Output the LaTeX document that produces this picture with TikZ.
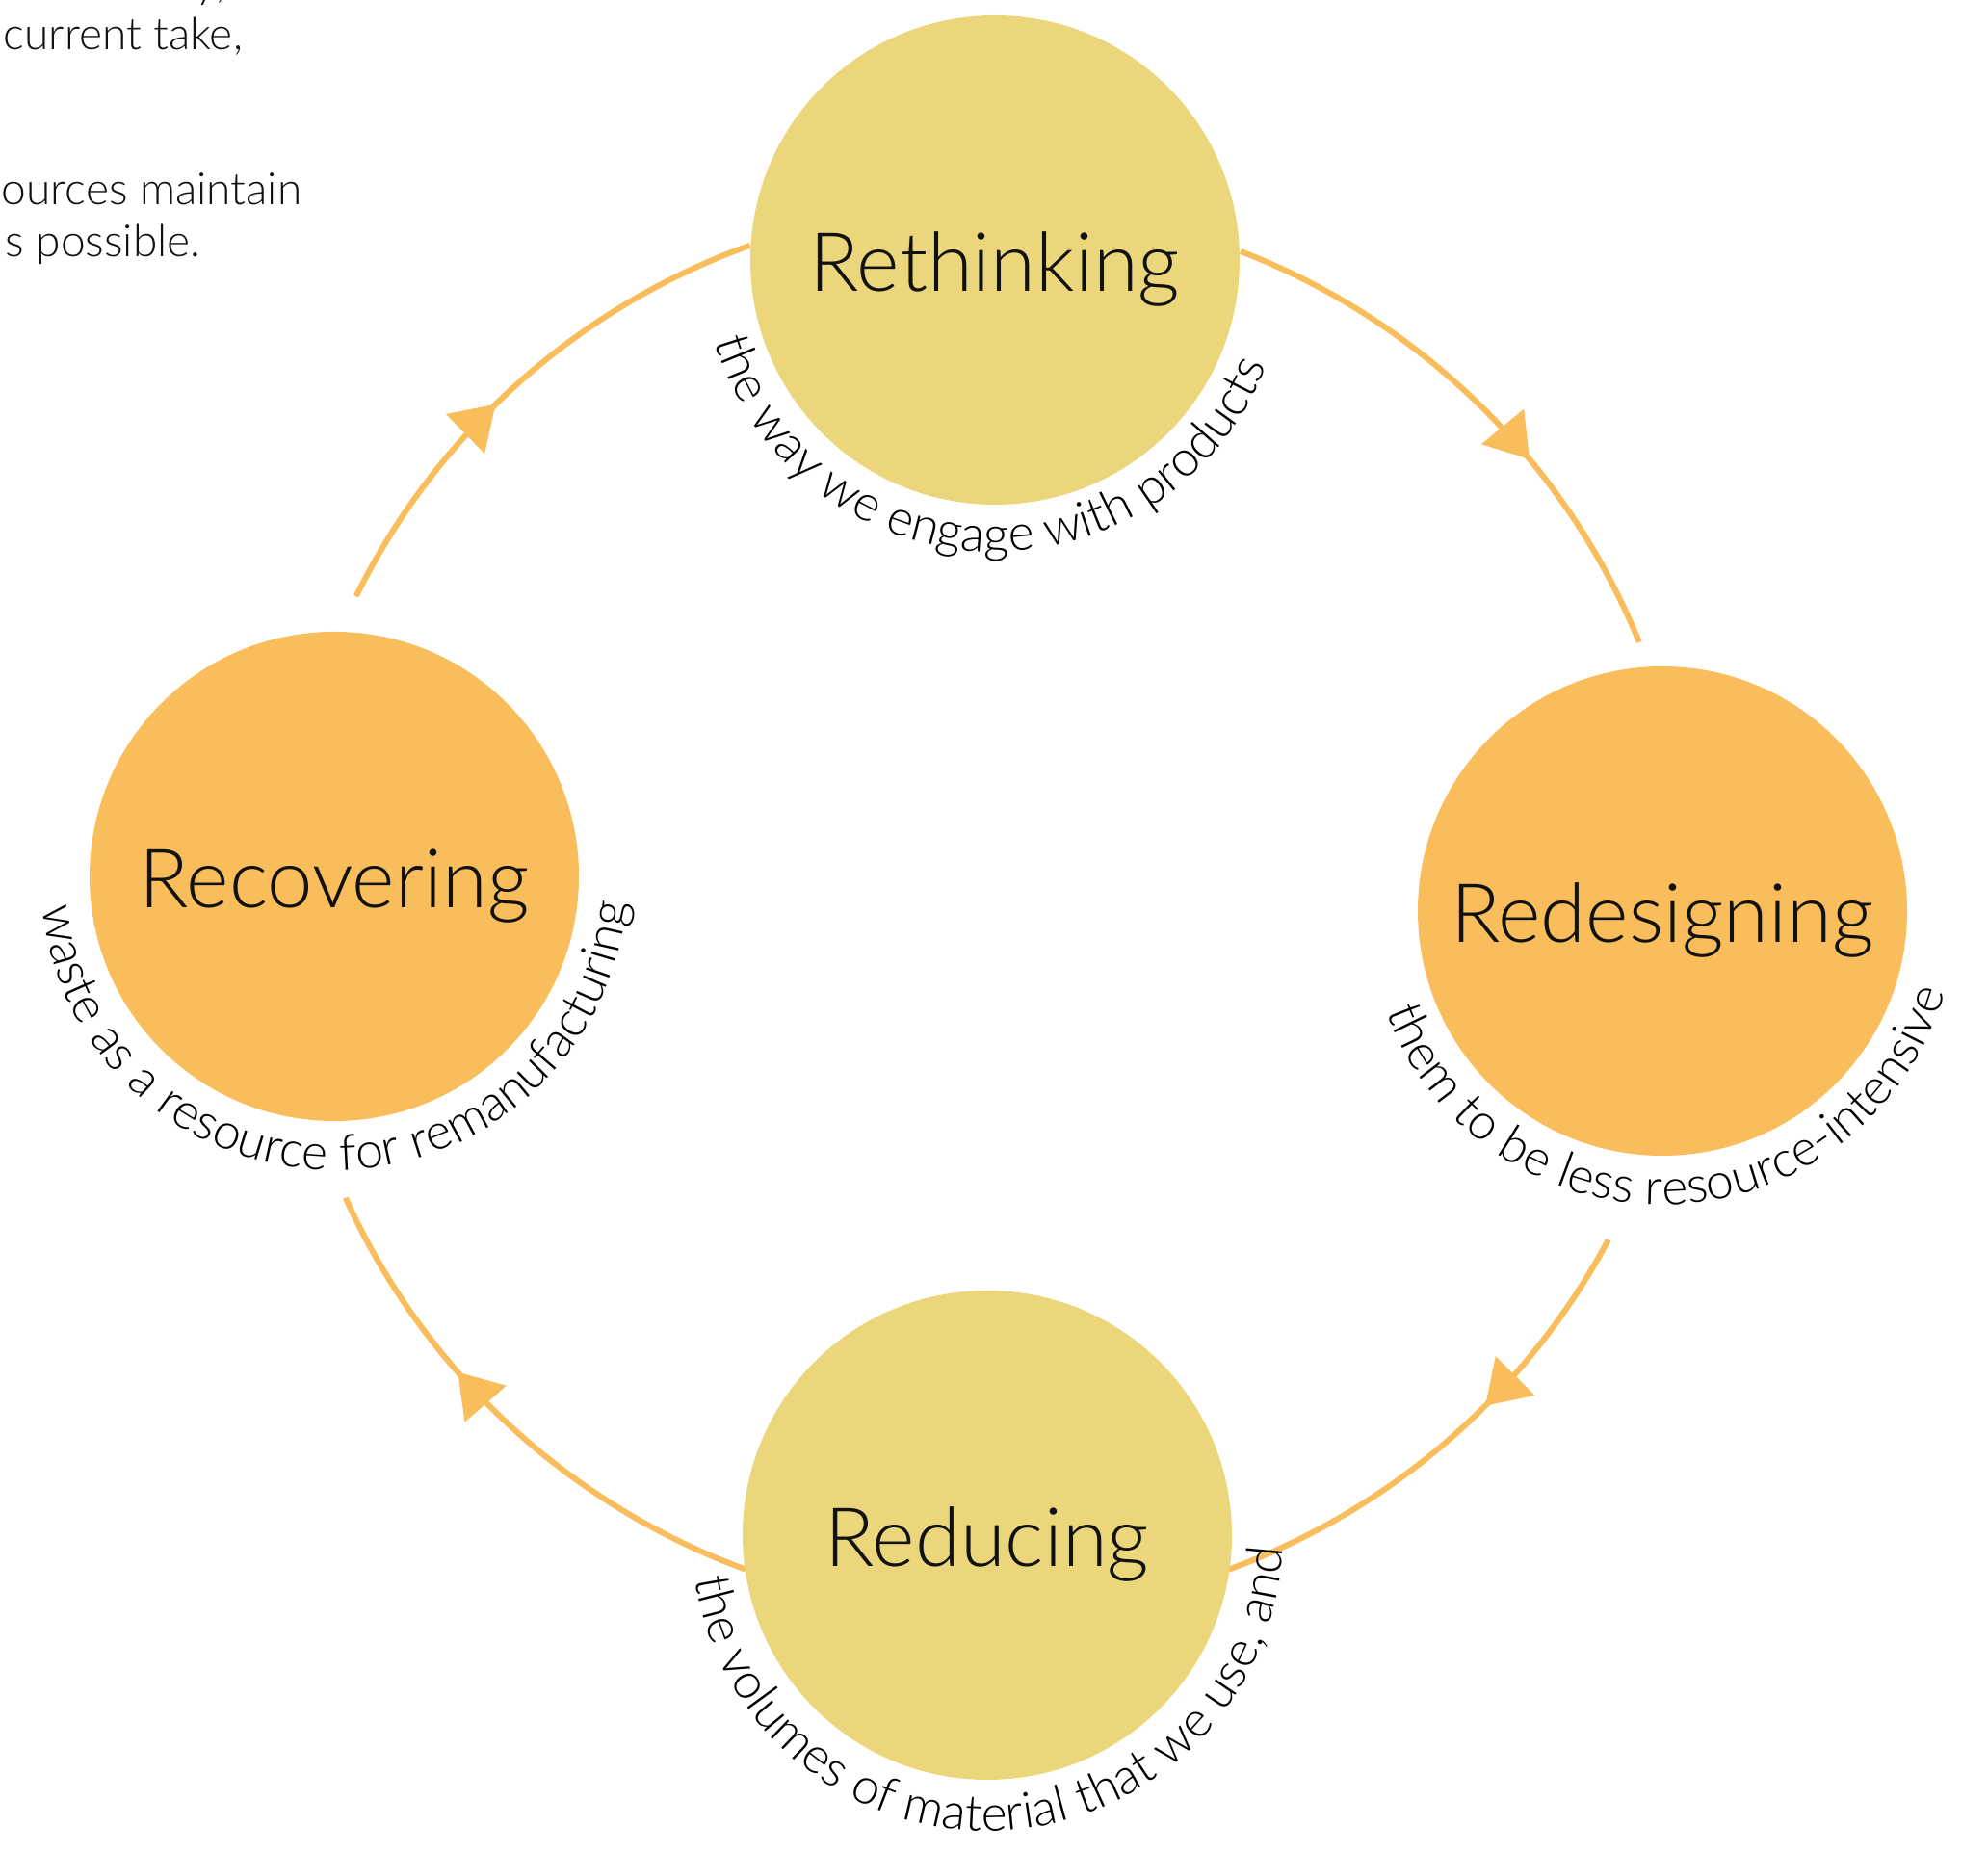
\documentclass[tikz,border=0pt]{standalone}
\usepackage{fontspec}
\IfFontExistsTF{Lato Light}{\setmainfont{Lato Light}}{\setmainfont{Lato}}
\usetikzlibrary{arrows.meta,decorations.markings,decorations.text,calc}

\definecolor{sand}{HTML}{ECD67C}
\definecolor{amber}{HTML}{F9BD5C}
\definecolor{ink}{HTML}{111111}

\newcommand\stagefont{\fontsize{24.2}{28}\selectfont}
\newcommand\ringfont{\fontsize{14.7}{17}\selectfont}
\newcommand\parafont{\fontsize{13.1}{15}\selectfont}

\begin{document}
\begin{tikzpicture}[
  stage/.style={circle, minimum size=5.08cm, inner sep=0pt, fill=#1,
                font=\stagefont, text=ink, text height=0.66cm, text depth=0pt},
  cycleflow/.style={draw=amber, line width=0.06cm, postaction={decorate},
                    decoration={markings, mark=at position #1 with
                    {\arrow{Triangle[length=0.44cm,width=0.56cm,color=amber]}}}},
  note/.style={anchor=base west, font=\parafont, text=ink, inner sep=0pt},
]
\useasboundingbox (0,0) rectangle (20.64,19.23);
\clip (0,0) rectangle (20.64,19.23);

% centre of the cycle
\coordinate (hub) at (10.25,9.80);

% arc end points on the cycle
\coordinate (a1s) at ($(hub)+(68.9:7.31)$);
\coordinate (a2s) at ($(hub)+(-28.1:7.31)$);
\coordinate (a3s) at ($(hub)+(249.9:7.31)$);
\coordinate (a4s) at ($(hub)+(153.7:7.31)$);

% connectors (drawn first, under the circles)
\draw[cycleflow=0.627] (a1s) arc[start angle=68.9, end angle=22.2, radius=7.31cm];
\draw[cycleflow=0.402] (a2s) arc[start angle=-28.1, end angle=-70.1, radius=7.31cm];
\draw[cycleflow=0.629] (a3s) arc[start angle=249.9, end angle=204.3, radius=7.31cm];
\draw[cycleflow=0.441] (a4s) arc[start angle=153.7, end angle=109.7, radius=7.31cm];

% stages
\node[stage=sand]  (reth)  at (10.33,16.53) {Rethinking};
\node[stage=amber] (redes) at (17.26,9.77)  {Redesigning};
\node[stage=sand]  (reduc) at (10.25,3.29)  {Reducing};
\node[stage=amber] (recov) at (3.47,10.13)  {Recovering};

% captions running round the lower half of each stage
\path[decorate, decoration={text along path, text align=center,
      text={|\ringfont|the way we engage with products}}]
  ($(reth)+(167.5:3.03)$) arc[start angle=167.5, end angle=367.5, radius=3.03cm];
\path[decorate, decoration={text along path, text align=center,
      text={|\ringfont|them to be less resource-intensive}}]
  ($(redes)+(172:3.05)$) arc[start angle=172, end angle=372, radius=3.05cm];
\path[decorate, decoration={text along path, text align=center,
      text={|\ringfont|the volumes of material that we use, and}}]
  ($(reduc)+(173:3.07)$) arc[start angle=173, end angle=373, radius=3.07cm];
\path[decorate, decoration={text along path, text align=center,
      text={|\ringfont|waste as a resource for remanufacturing}}]
  ($(recov)+(170.5:3.05)$) arc[start angle=170.5, end angle=370.5, radius=3.05cm];

% paragraph fragments in the upper left corner
\node[note] (p1) at (2.02,19.25) {y,};
\node[note] (p2) at (0.03,18.71) {current take,};
\node[note] (p3) at (0.01,17.10) {ources maintain};
\node[note] (p4) at (0.05,16.56) {s possible.};
\end{tikzpicture}
\end{document}
